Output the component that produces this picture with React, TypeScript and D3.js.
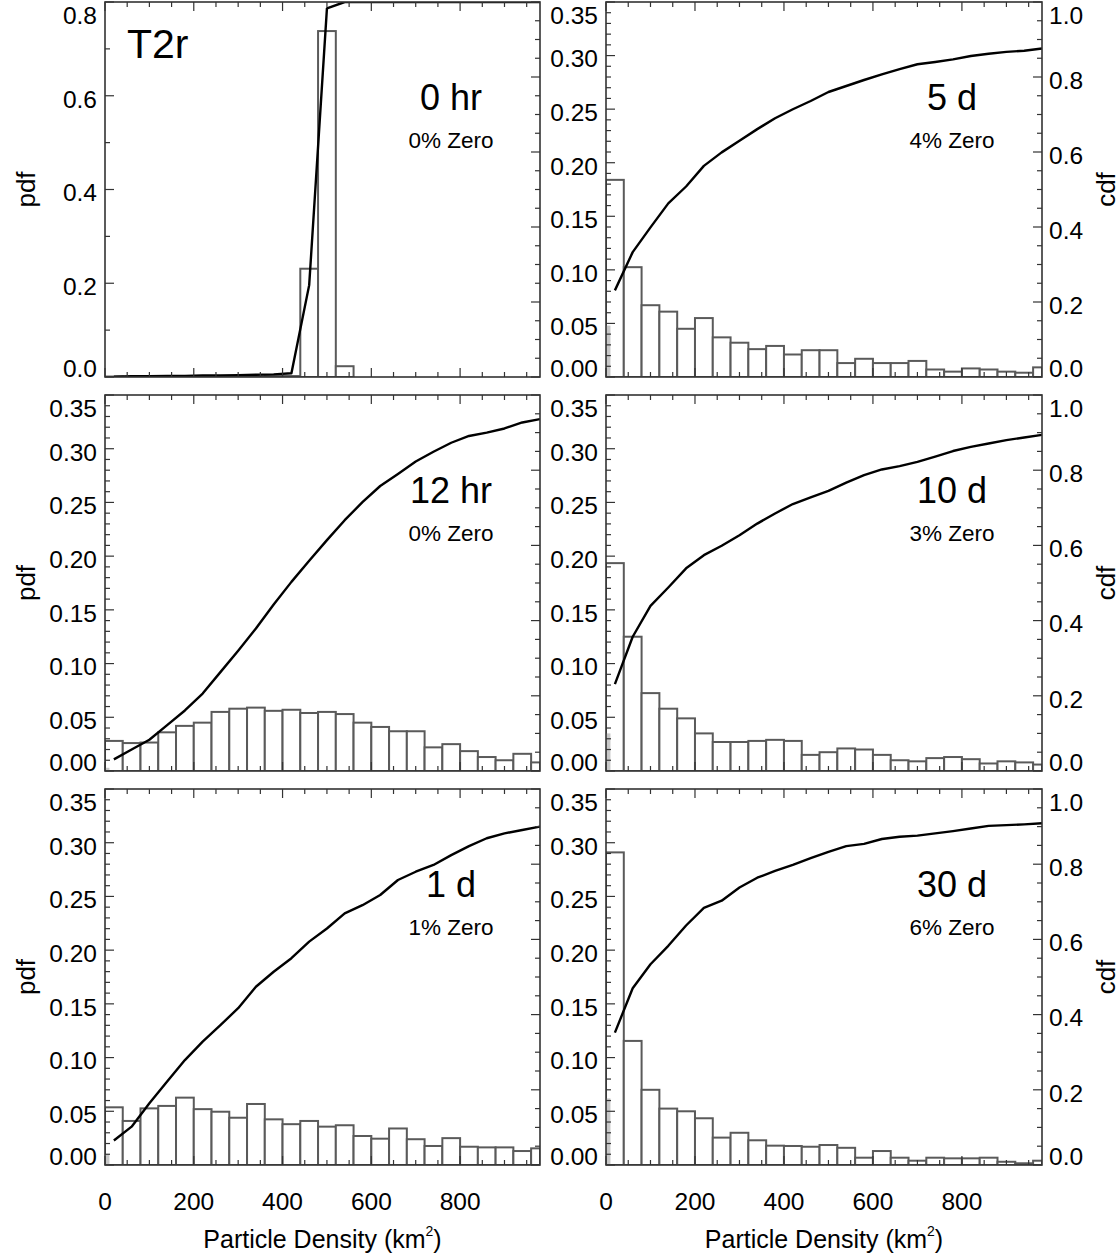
import React from 'react';
import * as d3 from 'd3';

// ---------- data ----------
const binStarts = [0, 40, 80, 120, 160, 200, 240, 280, 320, 360, 400, 440, 480, 520, 560, 600, 640, 680, 720, 760, 800, 840, 880, 920, 960];
const binCenters = [20, 60, 100, 140, 180, 220, 260, 300, 340, 380, 420, 460, 500, 540, 580, 620, 660, 700, 740, 780, 820, 860, 900, 940, 980];
const X_MAX = 980;
const BIN_W = 40;

const panelTitles = ['0 hr', '12 hr', '1 d', '5 d', '10 d', '30 d'];
const zeroLabels = ['0% Zero', '0% Zero', '1% Zero', '4% Zero', '3% Zero', '6% Zero'];
const zeroFrac = [0, 0.003, 0.01, 0.048, 0.035, 0.062];

const pdf0hr = [0.001, 0, 0.001, 0, 0.001, 0.001, 0.001, 0.001, 0.001, 0.002, 0.002, 0.231, 0.738, 0.023, 0, 0, 0, 0, 0, 0, 0, 0, 0, 0, 0];
const cdf0hr = [0.001, 0.002, 0.002, 0.003, 0.003, 0.004, 0.004, 0.005, 0.006, 0.007, 0.01, 0.245, 0.983, 1.0, 1.0, 1.0, 1.0, 1.0, 1.0, 1.0, 1.0, 1.0, 1.0, 1.0, 1.0];

const pdf12hr = [0.028, 0.026, 0.0265, 0.036, 0.042, 0.045, 0.055, 0.058, 0.059, 0.056, 0.057, 0.054, 0.055, 0.053, 0.045, 0.041, 0.037, 0.037, 0.022, 0.025, 0.0185, 0.013, 0.010, 0.016, 0.008];
const cdf12hr = [0.031, 0.057, 0.083, 0.122, 0.161, 0.206, 0.263, 0.320, 0.379, 0.443, 0.503, 0.559, 0.614, 0.667, 0.715, 0.758, 0.790, 0.823, 0.849, 0.873, 0.891, 0.900, 0.911, 0.927, 0.936];

const pdf1d = [0.0537, 0.041, 0.0527, 0.055, 0.0627, 0.052, 0.0496, 0.044, 0.0568, 0.0425, 0.038, 0.041, 0.0357, 0.037, 0.027, 0.0245, 0.034, 0.024, 0.0177, 0.025, 0.017, 0.0164, 0.0164, 0.013, 0.0155];
const cdf1d = [0.065, 0.102, 0.164, 0.222, 0.279, 0.328, 0.372, 0.417, 0.474, 0.514, 0.550, 0.594, 0.629, 0.669, 0.691, 0.718, 0.758, 0.780, 0.798, 0.824, 0.848, 0.869, 0.882, 0.891, 0.900];

const pdf5d = [0.184, 0.1025, 0.067, 0.061, 0.045, 0.055, 0.037, 0.032, 0.026, 0.029, 0.021, 0.025, 0.025, 0.013, 0.017, 0.013, 0.013, 0.015, 0.007, 0.005, 0.008, 0.007, 0.005, 0.004, 0.009];
const cdf5d = [0.231, 0.333, 0.399, 0.463, 0.508, 0.563, 0.599, 0.630, 0.661, 0.690, 0.714, 0.736, 0.760, 0.776, 0.792, 0.807, 0.821, 0.834, 0.840, 0.847, 0.856, 0.862, 0.867, 0.870, 0.876];

const pdf10d = [0.1935, 0.125, 0.0725, 0.058, 0.049, 0.035, 0.027, 0.027, 0.028, 0.029, 0.028, 0.015, 0.0175, 0.021, 0.020, 0.015, 0.010, 0.009, 0.012, 0.013, 0.011, 0.007, 0.009, 0.008, 0.006];
const cdf10d = [0.231, 0.357, 0.439, 0.488, 0.539, 0.574, 0.599, 0.627, 0.658, 0.685, 0.710, 0.728, 0.745, 0.767, 0.787, 0.802, 0.811, 0.822, 0.836, 0.851, 0.862, 0.871, 0.880, 0.887, 0.894];

const pdf30d = [0.291, 0.1155, 0.070, 0.0525, 0.050, 0.0435, 0.0255, 0.030, 0.023, 0.018, 0.0177, 0.017, 0.0186, 0.016, 0.0068, 0.013, 0.0068, 0.004, 0.0068, 0.0062, 0.0062, 0.0068, 0.003, 0.0016, 0.004];
const cdf30d = [0.352, 0.470, 0.534, 0.583, 0.637, 0.684, 0.703, 0.738, 0.764, 0.782, 0.798, 0.816, 0.833, 0.848, 0.854, 0.867, 0.873, 0.876, 0.882, 0.888, 0.895, 0.902, 0.904, 0.906, 0.909];

const xTickValues = [0, 200, 400, 600, 800];
const xTickLabels = ['0', '200', '400', '600', '800'];
const pdfTicksWide = [0, 0.2, 0.4, 0.6, 0.8];
const pdfTickLabelsWide = ['0.0', '0.2', '0.4', '0.6', '0.8'];
const pdfTicks = [0, 0.05, 0.1, 0.15, 0.2, 0.25, 0.3, 0.35];
const pdfTickLabels = ['0.00', '0.05', '0.10', '0.15', '0.20', '0.25', '0.30', '0.35'];
const cdfTicks = [0, 0.2, 0.4, 0.6, 0.8, 1.0];
const cdfTickLabels = ['0.0', '0.2', '0.4', '0.6', '0.8', '1.0'];

// ---------- layout ----------
const colX: [number, number][] = [[105, 540], [606, 1042]];
const rowY: [number, number][] = [[2, 377], [395, 771], [789, 1165]];
const FONT = "'Liberation Sans', Arial, Helvetica, sans-serif";
const TICK_FS = 24.5;

const panels = [
  { i: 0, col: 0, row: 0, pdf: pdf0hr, cdf: cdf0hr, ymax: 0.8 },
  { i: 1, col: 0, row: 1, pdf: pdf12hr, cdf: cdf12hr, ymax: 0.35 },
  { i: 2, col: 0, row: 2, pdf: pdf1d, cdf: cdf1d, ymax: 0.35 },
  { i: 3, col: 1, row: 0, pdf: pdf5d, cdf: cdf5d, ymax: 0.35 },
  { i: 4, col: 1, row: 1, pdf: pdf10d, cdf: cdf10d, ymax: 0.35 },
  { i: 5, col: 1, row: 2, pdf: pdf30d, cdf: cdf30d, ymax: 0.35 },
];

function Panel({ p }: { p: typeof panels[number] }) {
  const [x0, x1] = colX[p.col];
  const [y0, y1] = rowY[p.row];
  const x = d3.scaleLinear().domain([0, X_MAX]).range([x0, x1]);
  const y = d3.scaleLinear().domain([0, p.ymax]).range([y1, y0]);
  const yc = d3.scaleLinear().domain([0, 1]).range([y1, y0]);
  const wide = p.ymax > 0.5;
  const pTicks = wide ? pdfTicksWide : pdfTicks;
  const pLabels = wide ? pdfTickLabelsWide : pdfTickLabels;
  const pMinor = wide ? d3.range(0, 0.8001, 0.1) : d3.range(0, 0.3501, 0.01);
  const cMinor = d3.range(0, 1.0001, 0.05);
  const xMinor = d3.range(0, X_MAX, 50);
  const line = d3.line<number>().x((_, k) => x(binCenters[k])).y((v) => yc(v));
  const clipId = `clip${p.i}`;
  const labelY = (v: number, sc: (n: number) => number) =>
    Math.max(y0 + 13, Math.min(y1 - 9, sc(v) + 3));
  const tickStroke = '#333';
  return (
    <g>
      <defs>
        <clipPath id={clipId}>
          <rect x={x0} y={y0} width={x1 - x0} height={y1 - y0} />
        </clipPath>
      </defs>
      <g clipPath={`url(#${clipId})`}>
        {p.pdf.map((v, k) => {
          const a = x(binStarts[k]);
          const b = x(Math.min(binStarts[k] + BIN_W, X_MAX));
          return (
            <rect key={k} x={a} y={y(v)} width={b - a} height={y1 - y(v)} fill="#fff" stroke="#5a5a5a" strokeWidth={2} />
          );
        })}
        {zeroFrac[p.i] > 0 && (
          <rect x={x(0)} y={y(zeroFrac[p.i])} width={x(10) - x(0)} height={y1 - y(zeroFrac[p.i])} fill="#c8c8c8" />
        )}
        <path d={line(p.cdf) || ''} fill="none" stroke="#000" strokeWidth={2.4} strokeLinejoin="round" />
      </g>
      {/* ticks */}
      {pMinor.map((v, k) => {
        const major = pTicks.some((t) => Math.abs(t - v) < 1e-6);
        const len = major ? 9 : 5;
        return <line key={'pm' + k} x1={x0} x2={x0 + len} y1={y(v)} y2={y(v)} stroke={tickStroke} strokeWidth={1.2} />;
      })}
      {cMinor.map((v, k) => {
        const major = cdfTicks.some((t) => Math.abs(t - v) < 1e-6);
        const len = major ? 9 : 5;
        return <line key={'cm' + k} x1={x1} x2={x1 - len} y1={yc(v)} y2={yc(v)} stroke={tickStroke} strokeWidth={1.2} />;
      })}
      {xMinor.map((v, k) => {
        const major = xTickValues.includes(v);
        const len = major ? 9 : 5;
        return (
          <g key={'xm' + k}>
            <line x1={x(v)} x2={x(v)} y1={y1} y2={y1 - len} stroke={tickStroke} strokeWidth={1.2} />
            <line x1={x(v)} x2={x(v)} y1={y0} y2={y0 + len} stroke={tickStroke} strokeWidth={1.2} />
          </g>
        );
      })}
      <rect x={x0} y={y0} width={x1 - x0} height={y1 - y0} fill="none" stroke="#333" strokeWidth={1.6} />
      {/* left tick labels */}
      {pTicks.map((v, k) => (
        <text key={'pl' + k} x={x0 - 8} y={labelY(v, y)} dy="0.36em" textAnchor="end" fontSize={TICK_FS} fontFamily={FONT}>
          {pLabels[k]}
        </text>
      ))}
      {p.col === 1 &&
        cdfTicks.map((v, k) => (
          <text key={'cl' + k} x={x1 + 7} y={labelY(v, yc)} dy="0.36em" textAnchor="start" fontSize={TICK_FS} fontFamily={FONT}>
            {cdfTickLabels[k]}
          </text>
        ))}
      {p.row === 2 &&
        xTickValues.map((v, k) => (
          <text key={'xl' + k} x={x(v)} y={1210} textAnchor="middle" fontSize={TICK_FS} fontFamily={FONT}>
            {xTickLabels[k]}
          </text>
        ))}
      {p.row === 2 && (
        <text x={(x0 + x1) / 2} y={1248} textAnchor="middle" fontSize={25} fontFamily={FONT}>
          Particle Density (km
          <tspan fontSize={14} dy={-12}>2</tspan>
          <tspan dy={12}>)</tspan>
        </text>
      )}
      {p.col === 0 && (
        <text transform={`translate(26,${(y0 + y1) / 2}) rotate(-90)`} textAnchor="middle" dy="0.35em" fontSize={26} fontFamily={FONT}>
          pdf
        </text>
      )}
      {p.col === 1 && (
        <text transform={`translate(1106,${(y0 + y1) / 2}) rotate(-90)`} textAnchor="middle" dy="0.35em" fontSize={26} fontFamily={FONT}>
          cdf
        </text>
      )}
      <text x={x0 + 346} y={y0 + 108} textAnchor="middle" fontSize={36} fontFamily={FONT}>
        {panelTitles[p.i]}
      </text>
      <text x={x0 + 346} y={y0 + 146} textAnchor="middle" fontSize={22.5} fontFamily={FONT}>
        {zeroLabels[p.i]}
      </text>
      {p.i === 0 && (
        <text x={127} y={y0 + 56} textAnchor="start" fontSize={41} fontFamily={FONT}>
          T2r
        </text>
      )}
    </g>
  );
}

export default function App() {
  return (
    <svg width={1120} height={1255} style={{ position: 'absolute', left: 0, top: 0, background: '#fff' }}>
      <rect x={0} y={0} width={1120} height={1255} fill="#fff" />
      {panels.map((p) => (
        <Panel key={p.i} p={p} />
      ))}
    </svg>
  );
}
